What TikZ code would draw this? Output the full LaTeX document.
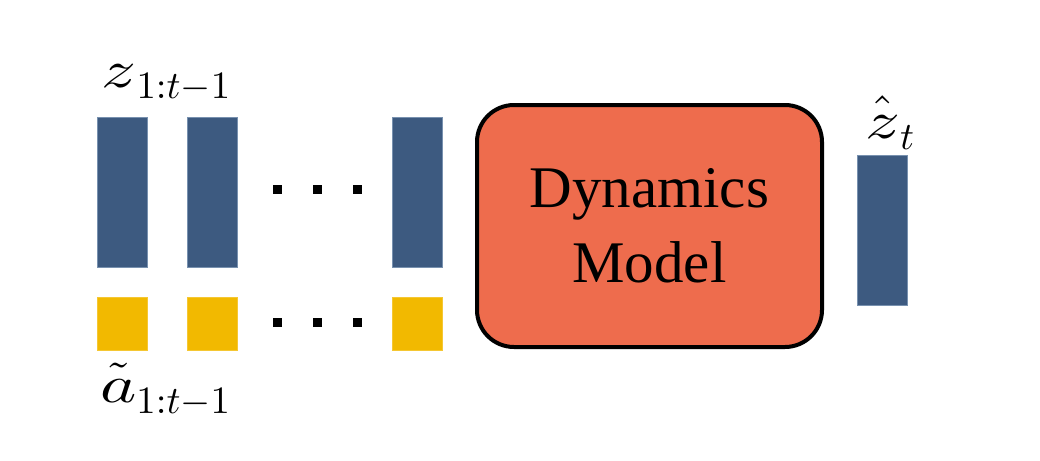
\documentclass[tikz,border=0pt]{standalone}
\usepackage{fontspec}
\newfontfamily\timesfont{Liberation Serif}
\definecolor{zblue}{RGB}{61,90,128}
\definecolor{zblueedge}{RGB}{120,145,175}
\definecolor{ayellow}{RGB}{242,185,0}
\definecolor{dynred}{RGB}{238,108,77}
\newcommand{\widez}{\scalebox{1.3}[1]{$z$}}
\newcommand{\widea}{\scalebox{1.3}[1]{$a$}}
\newcommand{\lowsub}[1]{\raisebox{-2.2pt}{\scalebox{0.73}{$#1$}}}
\begin{document}
\begin{tikzpicture}[x=1pt,y=-1pt,
  zbar/.style={rectangle,fill=zblue,draw=zblueedge,line width=0.8pt,minimum width=50pt,minimum height=150pt,inner sep=0pt},
  abox/.style={rectangle,fill=ayellow,draw=ayellow!80!white,line width=0.8pt,minimum width=50pt,minimum height=53pt,inner sep=0pt},
  dotsq/.style={rectangle,fill=black,minimum size=9pt,inner sep=0pt},
  dynbox/.style={rectangle,rounded corners=37pt,fill=dynred,draw=black,line width=4pt,minimum width=345pt,minimum height=242pt,align=center,font=\timesfont\fontsize{59}{75}\selectfont},
  mlabel/.style={inner sep=0pt,anchor=base west,scale=5.3}]
\useasboundingbox (0,0) rectangle (1040,460);
% latent bars
\node[zbar] (z1) at (122.5,192.3) {};
\node[zbar] (z2) at (212.3,192.3) {};
\node[zbar] (z3) at (417.3,192.3) {};
% action squares
\node[abox] (a1) at (122.5,323.7) {};
\node[abox] (a2) at (212.3,323.7) {};
\node[abox] (a3) at (417.3,323.7) {};
% dots
\node[dotsq] (d1) at (277,189) {};
\node[dotsq] (d2) at (317,189) {};
\node[dotsq] (d3) at (357,189) {};
\node[dotsq] (e1) at (277,322) {};
\node[dotsq] (e2) at (317,322) {};
\node[dotsq] (e3) at (357,322) {};
% dynamics model
\node[dynbox] (dyn) at (649.5,226) {Dynamics\\Model};
% predicted latent
\node[zbar] (zt) at (882.3,230) {};
% labels
\node[mlabel] (zl) at (100.5,87) {$\widez\lowsub{1{:}t{-}1}$};
\node[mlabel] (al) at (99,402) {$\tilde{\widea\rule{0pt}{0.49em}}\lowsub{1{:}t{-}1}$};
\node[mlabel] (ztl) at (864,138) {$\hat{\widez\rule{0pt}{0.54em}}\lowsub{t}$};
\end{tikzpicture}
\end{document}
